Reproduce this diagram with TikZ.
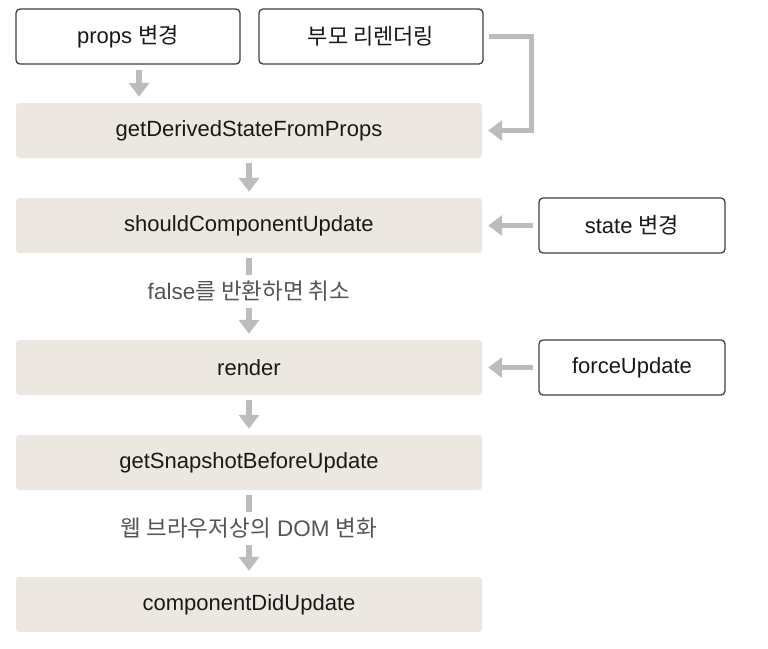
\documentclass[tikz,border=0pt]{standalone}
\usepackage{fontspec}
\setmainfont{Liberation Sans}
\newfontfamily\kr{Noto Sans CJK KR}
\usetikzlibrary{positioning,arrows.meta}

\definecolor{phasefill}{RGB}{236,231,224}
\definecolor{flowgray}{RGB}{188,188,188}
\definecolor{notegray}{RGB}{85,85,85}

\tikzset{
  phase/.style={fill=phasefill, rounded corners=3pt, minimum width=466pt,
    minimum height=55pt, text=black!90, font=\fontsize{22}{26}\selectfont},
  trigger/.style={draw=black!75, line width=1.3pt, fill=white, rounded corners=4pt,
    minimum height=55pt, text=black!90, font=\fontsize{22}{26}\selectfont},
  flow/.style={draw=flowgray, line width=5.5pt, -{Triangle[width=20pt,length=14pt]},
    shorten <=5pt, shorten >=6pt},
  note/.style={fill=white, text=notegray, minimum height=33pt, inner xsep=4pt,
    font=\fontsize{22.5}{26}\selectfont}
}

\begin{document}
\begin{tikzpicture}[node distance=95pt, on grid, x=1pt, y=-1pt]
\useasboundingbox (0,0) rectangle (768,648);

\node[phase] (derived) at (249,130.5) {getDerivedStateFromProps};
\node[phase] (should) [below=of derived] {shouldComponentUpdate};
\node[phase] (render) [below=142pt of should] {render};
\node[phase] (snapshot) [below=of render] {getSnapshotBeforeUpdate};
\node[phase] (didupdate) [below=142pt of snapshot] {componentDidUpdate};

\node[trigger, minimum width=224pt] (props) at (128,36.5) {props {\kr 변경}};
\node[trigger, minimum width=224pt] (parent) [right=243pt of props] {{\kr 부모 리렌더링}};
\node[trigger, minimum width=186pt] (state) [right=383pt of should] {state {\kr 변경}};
\node[trigger, minimum width=186pt] (force) [right=383pt of render] {forceUpdate};

\path
([xshift=11pt]props.south) edge [flow] ([xshift=11pt]props.south |- derived.north)
(derived) edge [flow] (should)
(should) edge [flow] node[note, pos=0.44] {false{\kr 를 반환하면 취소}} (render)
(render) edge [flow] (snapshot)
(snapshot) edge [flow] node[note, pos=0.44] {{\kr 웹 브라우저상의} DOM {\kr 변화}} (didupdate)
(state) edge [flow] (should)
(force) edge [flow] (render)
; %end path

\draw[flow] (parent.east) -- ++(48pt,0) |- (derived.east);
\end{tikzpicture}
\end{document}
